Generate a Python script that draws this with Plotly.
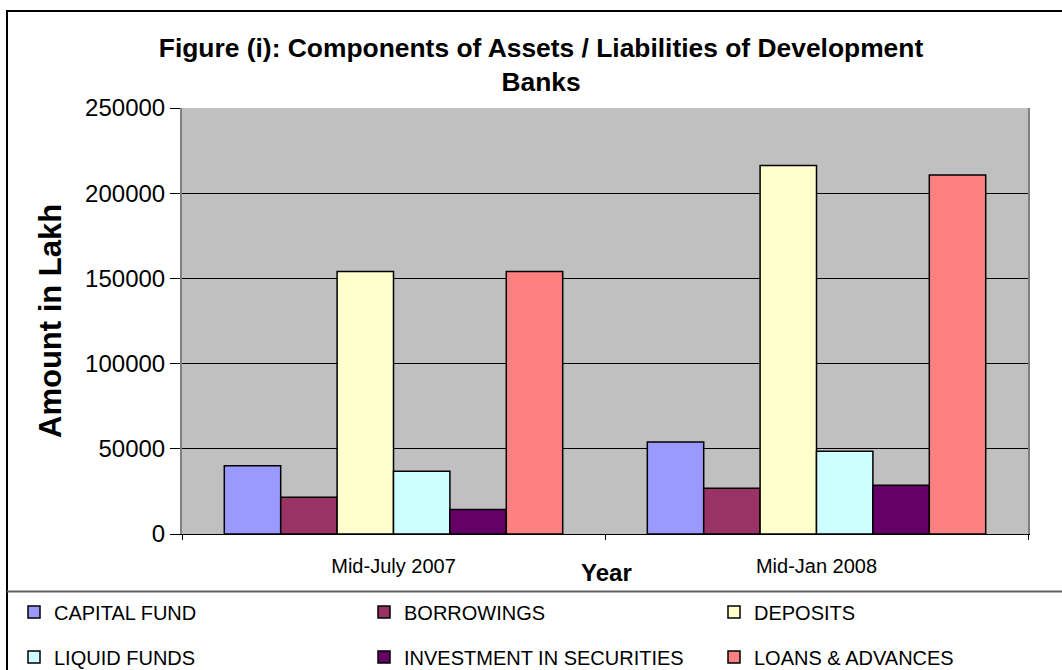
import plotly.graph_objects as go

# values (Rs. in Lakh)
years = ["Mid-July 2007", "Mid-Jan 2008"]
capital_fund = [40100, 54000]
borrowings = [21600, 26900]
deposits = [154000, 216200]
liquid_funds = [36800, 48500]
investment_in_securities = [14400, 28600]
loans_and_advances = [154000, 210700]

series_names = ["CAPITAL FUND", "BORROWINGS", "DEPOSITS",
                "LIQUID FUNDS", "INVESTMENT IN SECURITIES", "LOANS & ADVANCES"]
series_values = [capital_fund, borrowings, deposits,
                 liquid_funds, investment_in_securities, loans_and_advances]
colors = ["#9999FF", "#993366", "#FFFFCC", "#CCFFFF", "#660066", "#FF8080"]
y_ticks = [0, 50000, 100000, 150000, 200000, 250000]

W, H = 1062, 670
# plot area in pixels
L, R, T, B = 182, 1028, 108, 534.5
FONT = "Liberation Sans, Arial, sans-serif"

# legend grid (one legend per entry so it sits like the Excel one)
leg_cols = [14, 364, 714]
leg_rows = [612, 657]


def px_x(x):
    return (x - L) / (R - L)


def px_y(y):
    return (B - y) / (B - T)


fig = go.Figure()
legends = {}
for i, (name, vals, col) in enumerate(zip(series_names, series_values, colors)):
    key = "legend" if i == 0 else "legend%d" % (i + 1)
    fig.add_trace(go.Bar(
        x=years, y=vals, name=name,
        marker=dict(color=col, line=dict(color="black", width=1.5)),
        legend=key,
    ))
    legends[key] = dict(orientation="h", xref="container", yref="container",
                        x=leg_cols[i % 3] / W, y=1 - leg_rows[i // 3] / H,
                        xanchor="left", yanchor="middle",
                        font=dict(family=FONT, size=20, color="black"),
                        bgcolor="rgba(0,0,0,0)", borderwidth=0)

fig.update_layout(
    width=W, height=H,
    margin=dict(l=L, r=W - R, t=T, b=H - B, autoexpand=False),
    paper_bgcolor="white", plot_bgcolor="#C0C0C0",
    barmode="group", bargap=0.2, bargroupgap=0,
    font=dict(family=FONT, color="black"),
    title=dict(text="Figure (i): Components of Assets / Liabilities of Development<br>Banks",
               x=541 / W, xanchor="center", xref="container",
               y=1 - 57 / H, yanchor="top", yref="container",
               font=dict(family=FONT, size=26.4, color="black", weight="bold")),
    showlegend=True,
    **legends,
)

fig.update_yaxes(range=[0, 250000], tickvals=y_ticks, ticktext=[str(v) for v in y_ticks],
                 showgrid=True, gridcolor="black", gridwidth=1,
                 ticks="outside", ticklen=10, tickcolor="black", ticklabelstandoff=0,
                 tickfont=dict(family=FONT, size=24, color="black"),
                 showline=True, linecolor="#808080", linewidth=2, mirror=True,
                 zeroline=False)
fig.update_xaxes(showgrid=False, showline=True, linecolor="black", linewidth=1,
                 ticks="outside", tickson="boundaries", ticklen=5, tickcolor="black",
                 ticklabelstandoff=14,
                 tickfont=dict(family=FONT, size=20, color="black"))

fig.add_annotation(text="<b>Year</b>", xref="paper", yref="paper",
                   x=px_x(606), y=px_y(573), xanchor="center", yanchor="middle",
                   showarrow=False, font=dict(family=FONT, size=24, color="black"))
fig.add_annotation(text="<b>Amount in Lakh</b>", xref="paper", yref="paper",
                   x=px_x(50), y=0.5, xanchor="center", yanchor="middle",
                   textangle=-90, showarrow=False,
                   font=dict(family=FONT, size=31, color="black"))

# chart border and legend box
fig.add_shape(type="rect", xref="paper", yref="paper",
              x0=px_x(7), x1=px_x(1075), y0=px_y(690), y1=px_y(11),
              line=dict(color="black", width=2), layer="below")
fig.add_shape(type="line", xref="paper", yref="paper",
              x0=px_x(7), x1=px_x(1075), y0=px_y(592), y1=px_y(592),
              line=dict(color="#606060", width=2))

# drop the default page margin so the figure sits at the window's corner
fig.write_html("out.html", config={"displayModeBar": False},
               post_script="document.body.style.margin='0';")
